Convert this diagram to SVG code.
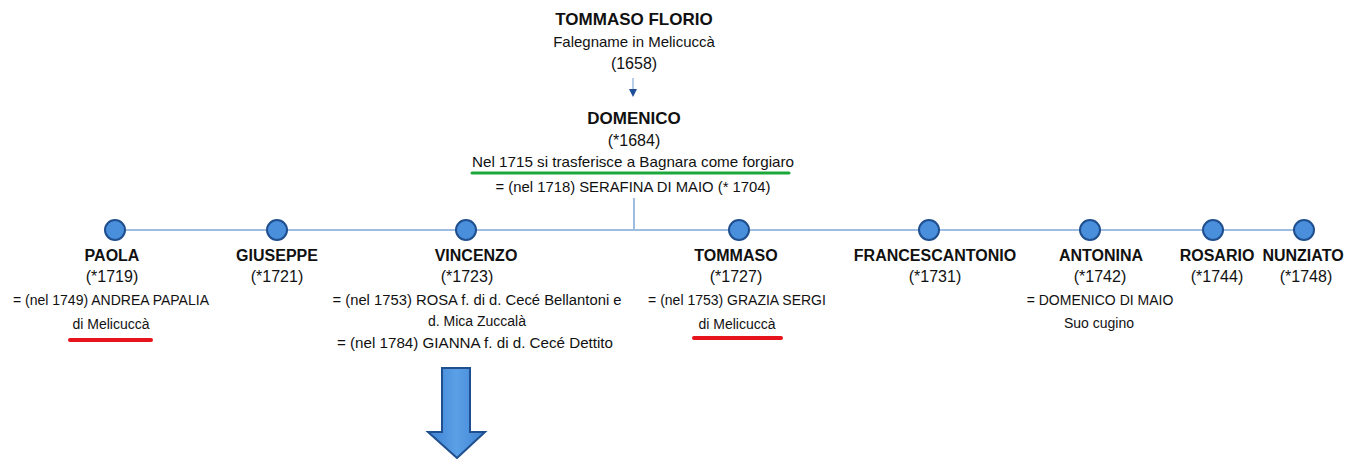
<svg xmlns="http://www.w3.org/2000/svg" width="1363" height="459" viewBox="0 0 1363 459">
<style>
text{font-family:"Liberation Sans",Arial,sans-serif;fill:#111;text-anchor:middle}
.nm{font-size:16px;font-weight:bold}
.top{font-size:17px;font-weight:bold}
.s{font-size:14px}
.m{font-size:15px}
.y{font-size:16px}
.dot{fill:#4a8fdb;stroke:#1f4f8f;stroke-width:2}
.ln{stroke:#9fbde0;stroke-width:2;fill:none}
.ul{stroke-width:4;stroke-linecap:round}
</style>
<defs>
<linearGradient id="ag" x1="0" y1="0" x2="1" y2="0">
<stop offset="0" stop-color="#3f82d2"/><stop offset="0.5" stop-color="#5aa0e6"/><stop offset="1" stop-color="#3f82d2"/>
</linearGradient>
</defs>
<g id="connectors">
<line class="ln" x1="633" y1="78" x2="633" y2="90" style="stroke-width:1.5"/>
<polygon points="629,89 637,89 633,97" fill="#1f4e99"/>
<line class="ln" x1="634" y1="198" x2="634" y2="230"/>
<line class="ln" x1="115" y1="230" x2="1304" y2="230"/>
</g>
<g id="tommaso-florio">
<text class="top" x="634" y="25">TOMMASO FLORIO</text>
<text class="m" x="634" y="47">Falegname in Melicuccà</text>
<text class="y" x="634" y="69">(1658)</text>
</g>
<g id="domenico">
<text class="top" x="634" y="124">DOMENICO</text>
<text class="y" x="634" y="146">(*1684)</text>
<text class="m" x="633" y="167" textLength="322" lengthAdjust="spacingAndGlyphs">Nel 1715 si trasferisce a Bagnara come forgiaro</text>
<line class="ul" x1="472" y1="173" x2="789" y2="173" stroke="#1aa83a" style="stroke-width:3"/>
<text class="s" x="633" y="192" textLength="275" lengthAdjust="spacingAndGlyphs">= (nel 1718) SERAFINA DI MAIO (* 1704)</text>
</g>
<g id="paola">
<circle class="dot" cx="115" cy="230" r="10"/>
<text class="nm" x="112" y="261">PAOLA</text>
<text class="y" x="112" y="282">(*1719)</text>
<text class="s" x="111" y="305">= (nel 1749) ANDREA PAPALIA</text>
<text class="s" x="111" y="329">di Melicuccà</text>
<line class="ul" x1="70" y1="340" x2="151" y2="340" stroke="#e8141c"/>
</g>
<g id="giuseppe">
<circle class="dot" cx="277" cy="230" r="10"/>
<text class="nm" x="277" y="261">GIUSEPPE</text>
<text class="y" x="277" y="282">(*1721)</text>
</g>
<g id="vincenzo">
<circle class="dot" cx="466" cy="230" r="10"/>
<text class="nm" x="476" y="261">VINCENZO</text>
<text class="y" x="467" y="282">(*1723)</text>
<text class="s" x="477" y="305" textLength="289" lengthAdjust="spacingAndGlyphs">= (nel 1753) ROSA f. di d. Cecé Bellantoni e</text>
<text class="s" x="477" y="326">d. Mica Zuccalà</text>
<text class="s" x="475" y="348" textLength="276" lengthAdjust="spacingAndGlyphs">= (nel 1784) GIANNA f. di d. Cecé Dettito</text>
</g>
<g id="tommaso">
<circle class="dot" cx="739" cy="230" r="10"/>
<text class="nm" x="736" y="261">TOMMASO</text>
<text class="y" x="736" y="282">(*1727)</text>
<text class="s" x="737" y="305">= (nel 1753) GRAZIA SERGI</text>
<text class="s" x="737" y="329">di Melicuccà</text>
<line class="ul" x1="694" y1="338" x2="781" y2="338" stroke="#e8141c"/>
</g>
<g id="francescantonio">
<circle class="dot" cx="929" cy="230" r="10"/>
<text class="nm" x="935" y="261">FRANCESCANTONIO</text>
<text class="y" x="935" y="282">(*1731)</text>
</g>
<g id="antonina">
<circle class="dot" cx="1090" cy="230" r="10"/>
<text class="nm" x="1101" y="261">ANTONINA</text>
<text class="y" x="1100" y="282">(*1742)</text>
<text class="s" x="1100" y="305">= DOMENICO DI MAIO</text>
<text class="s" x="1099" y="328">Suo cugino</text>
</g>
<g id="rosario">
<circle class="dot" cx="1213" cy="230" r="10"/>
<text class="nm" x="1217" y="261">ROSARIO</text>
<text class="y" x="1217" y="282">(*1744)</text>
</g>
<g id="nunziato">
<circle class="dot" cx="1304" cy="230" r="10"/>
<text class="nm" x="1303" y="261">NUNZIATO</text>
<text class="y" x="1306" y="282">(*1748)</text>
</g>
<g id="big-arrow">
<polygon points="442,368 470,368 470,432 485,432 457,458 428,432 442,432" fill="url(#ag)" stroke="#1f4f8f" stroke-width="2" stroke-linejoin="miter"/>
</g>
</svg>
